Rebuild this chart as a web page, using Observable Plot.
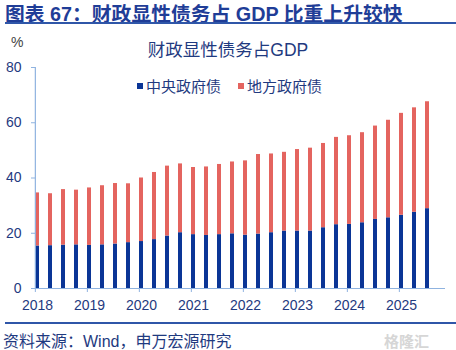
<!DOCTYPE html>
<html><head><meta charset="utf-8">
<script src="https://cdn.jsdelivr.net/npm/d3@7"></script>
<script src="https://cdn.jsdelivr.net/npm/@observablehq/plot@0.6"></script>
<style>
html,body{margin:0;padding:0;background:#fff;}
#wrap{position:relative;width:456px;height:350px;overflow:hidden;font-family:"Liberation Sans","Noto Sans CJK SC",sans-serif;}
.abs{position:absolute;white-space:nowrap;}
#title{left:5px;top:-2px;font-size:19.8px;font-weight:bold;color:#1f3d97;}
.rule{position:absolute;left:5px;right:0;height:2px;background:#2f56a8;}
#sub{left:0;width:456px;text-align:center;top:36px;font-size:17.5px;color:#1f3a80;}
#pct{left:11px;top:34px;font-size:14px;color:#444;}
.leg{top:75px;font-size:15px;color:#1f3a80;}
.sw{display:inline-block;width:6px;height:6px;margin-right:3px;vertical-align:3px;}
#cap{left:3px;top:328px;font-size:16px;color:#1f3a80;}
#wm{left:384px;top:330px;font-size:15px;color:#d6d6d6;font-weight:bold;}
svg [aria-label="y-axis tick"]{stroke:#8fb3e0;}
#plot{position:absolute;left:0;top:0;}
</style></head>
<body><div id="wrap">
<div id="plot"></div>
<div id="title" class="abs">图表 67：财政显性债务占 GDP 比重上升较快</div>
<div class="rule" style="top:22px"></div>
<div id="pct" class="abs">%</div>
<div id="sub" class="abs">财政显性债务占GDP</div>
<div class="abs leg" style="left:137px"><span class="sw" style="background:#0a3596"></span>中央政府债</div>
<div class="abs leg" style="left:238px"><span class="sw" style="background:#e4645f"></span>地方政府债</div>
<div class="rule" style="top:322px"></div>
<div id="cap" class="abs">资料来源：Wind，申万宏源研究</div>
<div id="wm" class="abs">格隆汇</div>
</div>
<script>
const quarters = ["2018Q1","2018Q2","2018Q3","2018Q4","2019Q1","2019Q2","2019Q3","2019Q4",
  "2020Q1","2020Q2","2020Q3","2020Q4","2021Q1","2021Q2","2021Q3","2021Q4",
  "2022Q1","2022Q2","2022Q3","2022Q4","2023Q1","2023Q2","2023Q3","2023Q4",
  "2024Q1","2024Q2","2024Q3","2024Q4","2025Q1","2025Q2","2025Q3"];
const central = [15.4,15.5,15.7,15.8,15.6,15.8,16.1,16.6,17.0,17.7,19.0,20.2,19.5,19.2,19.5,19.8,
  19.3,19.7,20.2,20.8,20.8,20.8,22.0,23.1,23.2,23.8,25.0,25.6,26.5,27.6,28.9];
const local = [19.2,18.8,20.1,19.8,20.8,21.4,21.9,21.3,23.0,24.3,25.3,24.9,24.3,24.8,25.4,26.0,
  26.9,28.8,28.5,28.5,29.5,30.0,30.5,31.6,32.1,32.6,33.8,35.3,36.9,37.8,38.7];
const seriesNames = ["中央政府债","地方政府债"];
const seriesColors = ["#0a3596","#e4645f"];
const yearTicks = ["2018Q1","2019Q1","2020Q1","2021Q1","2022Q1","2023Q1","2024Q1","2025Q1"];
const yTicks = [0,20,40,60,80];

const rows = [];
quarters.forEach((q,i)=>rows.push({q, s: seriesNames[0], v: central[i]}));
quarters.forEach((q,i)=>rows.push({q, s: seriesNames[1], v: local[i]}));

const axisColor = "#8fb3e0";
const textColor = "#1f3a80";
const halfBand = 2.15;

const chart = Plot.plot({
  width: 456, height: 350,
  marginTop: 67, marginBottom: 62, marginLeft: 35, marginRight: 11,
  style: {fontFamily: '"Liberation Sans","Noto Sans CJK SC",sans-serif', fontSize: "14px", background: "transparent"},
  x: {type: "band", domain: quarters, paddingInner: 0.68, paddingOuter: 0.08, align: 0, axis: null, label: null},
  y: {domain: [0, 80], axis: null, label: null},
  color: {domain: seriesNames, range: seriesColors},
  marks: [
    Plot.barY(rows, {x: "q", y: "v", fill: "s", order: seriesNames}),
    Plot.ruleY([0], {stroke: axisColor, strokeWidth: 1.2}),
    Plot.ruleX([quarters[0]], {stroke: axisColor, strokeWidth: 1.2, dx: -halfBand}),
    Plot.axisY({ticks: yTicks, tickSize: 4, tickPadding: 10, color: textColor, fontSize: 14, label: null}),
    Plot.axisX({ticks: yearTicks, tickSize: 0, tickPadding: 12, color: textColor, fontSize: 14, label: null,
      tickFormat: d => d.slice(0,4)}),
    Plot.axisX({ticks: yearTicks, tickSize: 4, stroke: axisColor, tickFormat: () => "", label: null, dx: -halfBand})
  ]
});
document.getElementById("plot").appendChild(chart);
</script>
</body></html>
